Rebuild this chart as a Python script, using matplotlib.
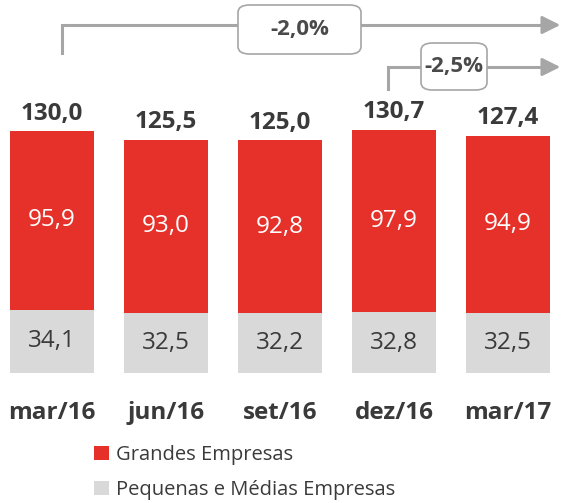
import numpy as np
import matplotlib as mpl
mpl.use('Agg')
import matplotlib.pyplot as plt
from matplotlib.patches import FancyBboxPatch

plt.rcParams['font.family'] = ['Open Sans', 'DejaVu Sans']

periods = ['mar/16', 'jun/16', 'set/16', 'dez/16', 'mar/17']
grandes = [95.9, 93.0, 92.8, 97.9, 94.9]
pequenas = [34.1, 32.5, 32.2, 32.8, 32.5]
totals = [130.0, 125.5, 125.0, 130.7, 127.4]
var_labels = ['-2,0%', '-2,5%']

red = '#e53129'
grey = '#d9d9d9'
dark = '#3a3a3a'
arrow_c = '#a6a6a6'

fig = plt.figure(figsize=(5.73, 5.03), dpi=100)
ax = fig.add_axes([0, 0.2584, 1, 0.7416])
x = np.arange(len(periods))

ax.bar(x, pequenas, width=0.74, color=grey, label='Pequenas e Médias Empresas')
ax.bar(x, grandes, width=0.74, bottom=pequenas, color=red, label='Grandes Empresas')

for i in x:
    ax.text(i, pequenas[i] / 2, f'{pequenas[i]:.1f}'.replace('.', ','),
            ha='center', va='center', fontsize=17.5, color=dark)
    ax.text(i, pequenas[i] + grandes[i] / 2, f'{grandes[i]:.1f}'.replace('.', ','),
            ha='center', va='center', fontsize=17.5, color='white')
    ax.text(i, totals[i] + 3, f'{totals[i]:.1f}'.replace('.', ','),
            ha='center', va='bottom', fontsize=17.5, fontweight='bold', color=dark)

ax.set_xlim(-0.456, 4.57)
ax.set_ylim(0, 200.5)
ax.axis('off')

# variation arrows (pixel coords converted to axes fraction)
def fx(px):
    return px / 573
def fy(py):
    return 1 - py / 373

for (x0, y0, y1, bx0, bx1, by0, by1, lab) in [
        (62, 53, 25, 238, 361, 5, 54, var_labels[0]),
        (388, 89, 67, 421, 487, 43, 90, var_labels[1])]:
    ax.plot([fx(x0), fx(x0), fx(548)], [fy(y0), fy(y1), fy(y1)],
            transform=ax.transAxes, color=arrow_c, lw=2.2, clip_on=False,
            solid_joinstyle='miter')
    ax.annotate('', xy=(fx(563), fy(y1)), xytext=(fx(545), fy(y1)),
                xycoords='axes fraction',
                arrowprops=dict(arrowstyle='-|>,head_length=1.1,head_width=0.55',
                                color=arrow_c, lw=2))
    box = FancyBboxPatch((fx(bx0), fy(by1)), fx(bx1) - fx(bx0), fy(by0) - fy(by1),
                         boxstyle='round,pad=0,rounding_size=0.02',
                         transform=ax.transAxes, facecolor='white',
                         edgecolor=arrow_c, lw=1.2, clip_on=False, zorder=3)
    ax.add_patch(box)
    ax.text(fx((bx0 + bx1) / 2), fy((by0 + by1) / 2), lab, transform=ax.transAxes,
            ha='center', va='center', fontsize=16, fontweight='bold',
            color='#4a4a4a', zorder=4)

for i in x:
    fig.text((52 + 114 * i) / 573, 1 - 413 / 503, periods[i], ha='center',
             va='center', fontsize=17.5, fontweight='bold', color=dark)

handles, labels = ax.get_legend_handles_labels()
fig.legend(handles[::-1], labels[::-1], loc='upper left',
           bbox_to_anchor=(94 / 573, 1 - 445 / 503), frameon=False,
           borderpad=0, borderaxespad=0,
           fontsize=14.5, handlelength=0.75, handleheight=0.75, handletextpad=0.35,
           labelspacing=0.75, labelcolor=dark)

fig.savefig('out.png', dpi=100)
